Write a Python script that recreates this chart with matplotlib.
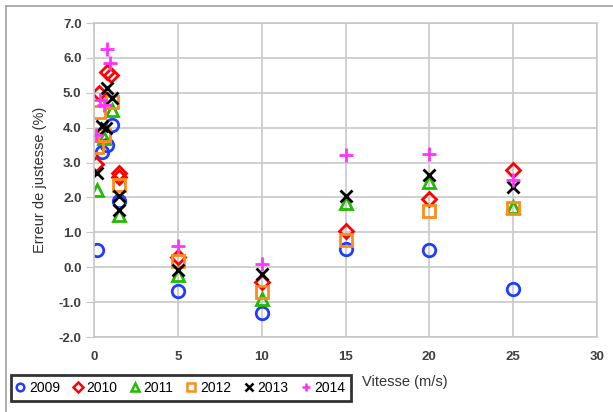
import matplotlib
matplotlib.use("Agg")
import matplotlib.pyplot as plt
from matplotlib.lines import Line2D

plt.rcParams['font.family'] = ['Liberation Sans', 'DejaVu Sans']

years = ["2009", "2010", "2011", "2012", "2013", "2014"]

x_2009 = [0.2, 0.5, 0.75, 1.05, 1.5, 5, 10, 15, 20, 25]
y_2009 = [0.48, 3.3, 3.5, 4.08, 1.9, -0.68, -1.3, 0.52, 0.48, -0.62]

x_2010 = [0.1, 0.3, 0.8, 1.0, 1.5, 1.5, 5, 10, 15, 20, 25]
y_2010 = [2.95, 5.0, 5.6, 5.5, 2.7, 2.6, 0.3, -0.42, 1.05, 1.95, 2.8]

x_2011 = [0.2, 0.6, 1.05, 1.5, 5, 10, 15, 20, 25]
y_2011 = [2.2, 3.7, 4.5, 1.5, -0.22, -0.92, 1.85, 2.45, 1.72]

x_2012 = [0.2, 0.3, 0.6, 1.1, 1.5, 5, 10, 15, 20, 25]
y_2012 = [3.45, 4.45, 3.8, 4.75, 2.35, 0.18, -0.7, 0.78, 1.6, 1.7]

x_2013 = [0.15, 0.5, 0.7, 0.75, 1.05, 1.5, 1.5, 5, 10, 15, 20, 25]
y_2013 = [2.7, 4.05, 3.98, 5.15, 4.85, 2.05, 1.65, -0.08, -0.2, 2.05, 2.65, 2.3]

x_2014 = [0.1, 0.35, 0.6, 0.75, 0.95, 5, 10, 15, 20, 25]
y_2014 = [3.8, 4.8, 4.65, 6.25, 5.85, 0.6, 0.1, 3.22, 3.25, 2.5]

xs = [x_2009, x_2010, x_2011, x_2012, x_2013, x_2014]
ys = [y_2009, y_2010, y_2011, y_2012, y_2013, y_2014]
colors = ["#1f3cff", "#ff0000", "#22bb00", "#ff8c1a", "#000000", "#ff33ff"]
markers = ["o", "D", "^", "s", "x", "+"]
sizes = [9, 7.5, 9, 9, 9, 10]

fig = plt.figure(figsize=(6.13, 4.12), dpi=100)
ax = fig.add_axes([94/613, 1-337/412, (597-94)/613, (337-23)/412])

for x, y, c, m, s, lab in zip(xs, ys, colors, markers, sizes, years):
    ax.plot(x, y, linestyle='none', marker=m, markersize=s,
            markerfacecolor='none' if m not in ('x', '+') else c,
            markeredgecolor=c, markeredgewidth=2.0, label=lab)

ax.set_xlim(0, 30)
ax.set_ylim(-2.0, 7.0)
ax.set_xticks(range(0, 31, 5))
ax.set_yticks([-2, -1, 0, 1, 2, 3, 4, 5, 6, 7])
ax.set_yticklabels([f"{v:.1f}" for v in [-2, -1, 0, 1, 2, 3, 4, 5, 6, 7]])
ax.grid(True, color='#c8c8c8', linewidth=1.2)
ax.set_axisbelow(True)
for sp in ax.spines.values():
    sp.set_color('#c8c8c8')
    sp.set_linewidth(1.2)
ax.tick_params(axis='y', length=6, color='#c8c8c8', labelsize=9.5, labelcolor='#404040', pad=3)
ax.tick_params(axis='x', length=0, labelsize=9.5, labelcolor='#404040', pad=10)
for t in ax.get_xticklabels() + ax.get_yticklabels():
    t.set_fontweight('bold')

fig.text(40/613, 1-180/412, "Erreur de justesse (%)", rotation=90, ha='center', va='center',
         fontsize=10.5, color='#333333')
fig.text(362/613, 1-382/412, "Vitesse (m/s)", ha='left', va='center', fontsize=10.5, color='#333333')

leg_handles = []
for c, m, lab in zip(colors, markers, years):
    leg_handles.append(Line2D([], [], linestyle='none', marker=m, markersize=5.5,
                              markerfacecolor='none' if m not in ('x', '+') else c,
                              markeredgecolor=c, markeredgewidth=1.8, label=lab))
leg = fig.legend(handles=leg_handles, loc='center', bbox_to_anchor=(181/613, 1-388/412),
                 ncol=6, frameon=True, fontsize=10, handlelength=0.6, handletextpad=0.3,
                 columnspacing=1.0, borderpad=0.4, fancybox=False)
leg.get_frame().set_edgecolor('black')
leg.get_frame().set_linewidth(2.0)

fig.add_artist(Line2D([6/613, 6/613], [0, 1-6/412], transform=fig.transFigure, color='#a0a0a0', linewidth=1.2))
fig.add_artist(Line2D([6/613, 1], [1-6/412, 1-6/412], transform=fig.transFigure, color='#a0a0a0', linewidth=1.2))

fig.savefig("out.png", dpi=100)
